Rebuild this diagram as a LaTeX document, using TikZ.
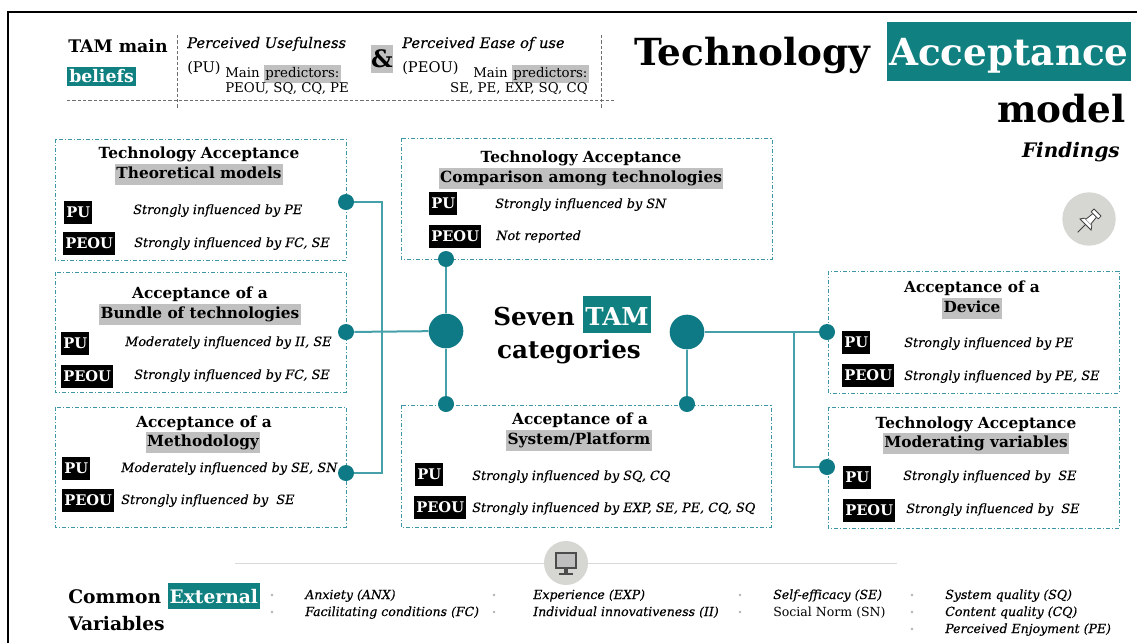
\documentclass[tikz,border=0pt]{standalone}
\usepackage{fontspec}
\setmainfont{DejaVu Serif}
\definecolor{tealbg}{RGB}{16,128,128}
\definecolor{dotteal}{RGB}{14,122,133}
\definecolor{lineteal}{RGB}{70,160,170}
\definecolor{boxteal}{RGB}{60,150,165}
\definecolor{hlgray}{RGB}{192,192,192}
\definecolor{pingray}{RGB}{214,214,210}
\definecolor{hdgray}{RGB}{110,110,110}
\newcommand\hlg[1]{{\setlength\fboxsep{1pt}\colorbox{hlgray}{\strut #1}}}
\newcommand\tbox[3]{{\setlength\fboxsep{0pt}\colorbox{tealbg}{\rule[-#2]{0pt}{#3}\hspace{1.5pt}\textcolor{white}{#1}\hspace{1.5pt}}}}
\tikzset{
  catbox/.style={draw=boxteal, line width=0.75pt, dash pattern=on 3pt off 1.5pt on 0.8pt off 1.5pt},
  dot/.style={circle, fill=dotteal, inner sep=0pt, minimum size=12pt},
  bigdot/.style={circle, fill=dotteal, inner sep=0pt, minimum size=26pt},
  conn/.style={draw=lineteal, line width=1.5pt},
  lbl/.style={fill=black, text=white, font=\bfseries\fontsize{11}{12}\selectfont, inner xsep=1.5pt, inner ysep=0pt, text height=12.6pt, text depth=4.65pt, anchor=west},
  ttl/.style={font=\bfseries\fontsize{11.5}{14}\selectfont, anchor=base, inner sep=0pt},
  body/.style={font=\itshape\fontsize{9.6}{11.5}\selectfont\addfontfeature{FakeBold=0.35}, anchor=base west, inner sep=0pt},
  hdb/.style={font=\bfseries\fontsize{13}{15}\selectfont, anchor=base west, inner sep=0pt},
  hdi/.style={font=\itshape\fontsize{11}{13}\selectfont\addfontfeature{FakeBold=0.3}, anchor=base west, inner sep=0pt},
  hdr/.style={font=\fontsize{11}{13}\selectfont, anchor=base west, inner sep=0pt},
  hds/.style={font=\fontsize{10}{11}\selectfont, anchor=base west, inner sep=0pt},
  hdash/.style={draw=hdgray, line width=0.6pt, dash pattern=on 2.5pt off 1.5pt},
  titlef/.style={font=\bfseries\fontsize{28}{34}\selectfont, inner sep=0pt},
  ctr/.style={font=\bfseries\fontsize{18.5}{22}\selectfont, inner sep=0pt},
  botb/.style={font=\bfseries\fontsize{14}{17}\selectfont, anchor=base west, inner sep=0pt},
  bot/.style={font=\itshape\fontsize{9.4}{11}\selectfont\addfontfeature{FakeBold=0.3}, anchor=base west, inner sep=0pt},
  botr/.style={font=\fontsize{9.4}{11}\selectfont, anchor=base west, inner sep=0pt},
  bul/.style={circle, fill=black!30, inner sep=0pt, minimum size=2pt}
}
\begin{document}
\begin{tikzpicture}[x=0.75pt,y=-0.75pt]
\useasboundingbox (0,0) rectangle (1137,643);
\fill[white] (0,0) rectangle (1137,643);
\draw[line width=1.5pt] (8,643) -- (8,12) -- (1137,12);

% ---------- header ----------
\draw[hdash] (177,35) -- (177,108);
\draw[hdash] (601,35) -- (601,108);
\draw[hdash] (67,100) -- (616,100);
\node[hdb] (tammain) at (68,52) {TAM main};
\node[hdb] (beliefs) at (67,82) {\tbox{beliefs}{3pt}{14.25pt}};
\node[hdi] (pu) at (187,48) {Perceived Usefulness};
\node[hdr] (pulab) at (187,72) {(PU)};
\node[hds] (pumain) at (225,77) {Main \hlg{predictors:}};
\node[hds] (pupred) at (225,92) {PEOU, SQ, CQ, PE};
\node[fill=hlgray, minimum width=15pt, minimum height=21pt, inner sep=0pt, font=\bfseries\fontsize{18}{18}\selectfont] (amp) at (382,59) {\&};
\node[hdi] (peou) at (402,48) {Perceived Ease of use};
\node[hdr] (peoulab) at (402,72) {(PEOU)};
\node[hds] (peoumain) at (473,77) {Main \hlg{predictors:}};
\node[hds, anchor=base east] (peoupred) at (588,92) {SE, PE, EXP, SQ, CQ};

% ---------- title ----------
\node[titlef, anchor=base west] (ttech) at (634,65) {Technology};
\node[titlef, anchor=base west] (tacc) at (887,65) {\tbox{Acceptance}{12pt}{44pt}};
\node[titlef, anchor=base east] (tmodel) at (1126,122) {model};
\node[font=\bfseries\itshape\fontsize{15}{18}\selectfont, anchor=base east, inner sep=0pt] (tfind) at (1120,157) {Findings};
\node[circle, fill=pingray, minimum size=40pt, inner sep=0pt] (pin) at (1089,219) {};
\begin{scope}[shift={(1089,221)}, x=0.75pt, y=0.75pt, rotate=-45, draw=black!75, line width=0.6pt, line join=round]
  \draw (0,-16) -- (0,-5);
  \draw[fill=white] (-8,-5) -- (8,-5) -- (5,-1) -- (-5,-1) -- cycle;
  \draw[fill=white] (-3.5,-1) -- (-2.5,8) -- (2.5,8) -- (3.5,-1);
  \draw[fill=white] (-5,8) rectangle (5,12);
\end{scope}

% ---------- category boxes ----------
\draw[catbox] (55,139) rectangle (346,260);
\draw[catbox] (55,272) rectangle (346,392);
\draw[catbox] (55,407) rectangle (346,527);
\draw[catbox] (401,138) rectangle (772,259);
\draw[catbox] (401,405) rectangle (771,527);
\draw[catbox] (828,271) rectangle (1119,393);
\draw[catbox] (828,407) rectangle (1119,528);

% box 1
\node[ttl] (b1a) at (199,158) {Technology Acceptance};
\node[ttl] (b1b) at (199,178) {\hlg{Theoretical models}};
\node[lbl] (b1pu) at (64,212) {PU};
\node[body] (b1put) at (133,214) {Strongly influenced by PE};
\node[lbl] (b1pe) at (63,243) {PEOU};
\node[body] (b1pet) at (134,247) {Strongly influenced by FC, SE};
% box 2
\node[ttl] (b2a) at (200,298) {Acceptance of a};
\node[ttl] (b2b) at (200,318) {\hlg{Bundle of technologies}};
\node[lbl] (b2pu) at (61,343) {PU};
\node[body] (b2put) at (125,346) {Moderately influenced by II, SE};
\node[lbl] (b2pe) at (61,376) {PEOU};
\node[body] (b2pet) at (134,379) {Strongly influenced by FC, SE};
% box 3
\node[ttl] (b3a) at (204,427) {Acceptance of a};
\node[ttl] (b3b) at (203,446) {\hlg{Methodology}};
\node[lbl] (b3pu) at (62,468) {PU};
\node[body] (b3put) at (121,472) {Moderately influenced by SE, SN};
\node[lbl] (b3pe) at (62,500) {PEOU};
\node[body] (b3pet) at (121,504) {Strongly influenced by~ SE};
% box 4
\node[ttl] (b4a) at (581,162) {Technology Acceptance};
\node[ttl] (b4b) at (581,182) {\hlg{Comparison among technologies}};
\node[lbl] (b4pu) at (429,203) {PU};
\node[body] (b4put) at (495,208) {Strongly influenced by SN};
\node[lbl] (b4pe) at (429,236) {PEOU};
\node[body] (b4pet) at (496,240) {Not reported};
% box 5
\node[ttl] (b5a) at (580,424) {Acceptance of a};
\node[ttl] (b5b) at (579,444) {\hlg{System/Platform}};
\node[lbl] (b5pu) at (415,474) {PU};
\node[body] (b5put) at (472,480) {Strongly influenced by SQ, CQ};
\node[lbl] (b5pe) at (414,507) {PEOU};
\node[body] (b5pet) at (472,512) {Strongly influenced by EXP, SE, PE, CQ, SQ};
% box 6
\node[ttl] (b6a) at (972,292) {Acceptance of a};
\node[ttl] (b6b) at (972,312) {\hlg{Device}};
\node[lbl] (b6pu) at (842,342) {PU};
\node[body] (b6put) at (904,347) {Strongly influenced by PE};
\node[lbl] (b6pe) at (842,375) {PEOU};
\node[body] (b6pet) at (904,380) {Strongly influenced by PE, SE};
% box 7
\node[ttl] (b7a) at (976,428) {Technology Acceptance};
\node[ttl] (b7b) at (976,447) {\hlg{Moderating variables}};
\node[lbl] (b7pu) at (843,477) {PU};
\node[body] (b7put) at (903,480) {Strongly influenced by~ SE};
\node[lbl] (b7pe) at (843,510) {PEOU};
\node[body] (b7pet) at (906,513) {Strongly influenced by~ SE};

% ---------- centre ----------
\node[ctr, anchor=base west] (seven) at (493,325) {Seven \tbox{TAM}{6pt}{27.75pt}};
\node[ctr, anchor=base] (cats) at (569,358) {categories};

% ---------- dots and connectors ----------
\node[dot] (d1) at (346,202) {};
\node[dot] (d2) at (346,332) {};
\node[dot] (d3) at (346,473) {};
\node[dot] (dc) at (446,259) {};
\node[dot] (ds1) at (446,404) {};
\node[dot] (ds2) at (687,404) {};
\node[dot] (dd) at (827,332) {};
\node[dot] (dm) at (827,467) {};
\node[bigdot] (L) at (446,331) {};
\node[bigdot] (R) at (687,332) {};
\coordinate (c1) at (382,202);
\coordinate (c2) at (382,473);
\coordinate (c3) at (794,332);
\coordinate (c4) at (794,467);
\draw[conn] (d1) -- (c1) -- (c2) -- (d3);
\draw[conn] (d2) -- (L);
\draw[conn] (dc) -- (L);
\draw[conn] (L) -- (ds1);
\draw[conn] (R) -- (ds2);
\draw[conn] (R) -- (c3) -- (dd);
\draw[conn] (c3) -- (c4) -- (dm);

% ---------- bottom ----------
\draw[draw=black!15, line width=0.75pt] (235,563) -- (897,563);
\node[circle, fill=pingray, minimum size=33pt, inner sep=0pt] (mon) at (566,563) {};
\fill[black!70] (555,552) rectangle (577,569);
\fill[black!25] (557,554) rectangle (575,567);
\fill[black!70] (564,569) rectangle (568,574);
\fill[black!70] (559,573) rectangle (573,575);

\node[botb] (common) at (68,603) {Common \tbox{External}{4.5pt}{19.5pt}};
\node[botb] (vars) at (68,630) {Variables};

\node[bul] (u11) at (272,595) {};
\node[bul] (u12) at (272,612) {};
\node[bot] (v11) at (305,599) {Anxiety (ANX)};
\node[bot] (v12) at (305,616) {Facilitating conditions (FC)};
\node[bul] (u21) at (494,595) {};
\node[bul] (u22) at (494,612) {};
\node[bot] (v21) at (533,599) {Experience (EXP)};
\node[bot] (v22) at (533,616) {Individual innovativeness (II)};
\node[bul] (u31) at (740,595) {};
\node[bul] (u32) at (740,612) {};
\node[bot] (v31) at (773,599) {Self-efficacy (SE)};
\node[botr] (v32) at (773,616) {Social Norm (SN)};
\node[bul] (u41) at (912,595) {};
\node[bul] (u42) at (912,612) {};
\node[bul] (u43) at (912,629) {};
\node[bot] (v41) at (945,599) {System quality (SQ)};
\node[bot] (v42) at (945,616) {Content quality (CQ)};
\node[bot] (v43) at (945,633) {Perceived Enjoyment (PE)};
\end{tikzpicture}
\end{document}
